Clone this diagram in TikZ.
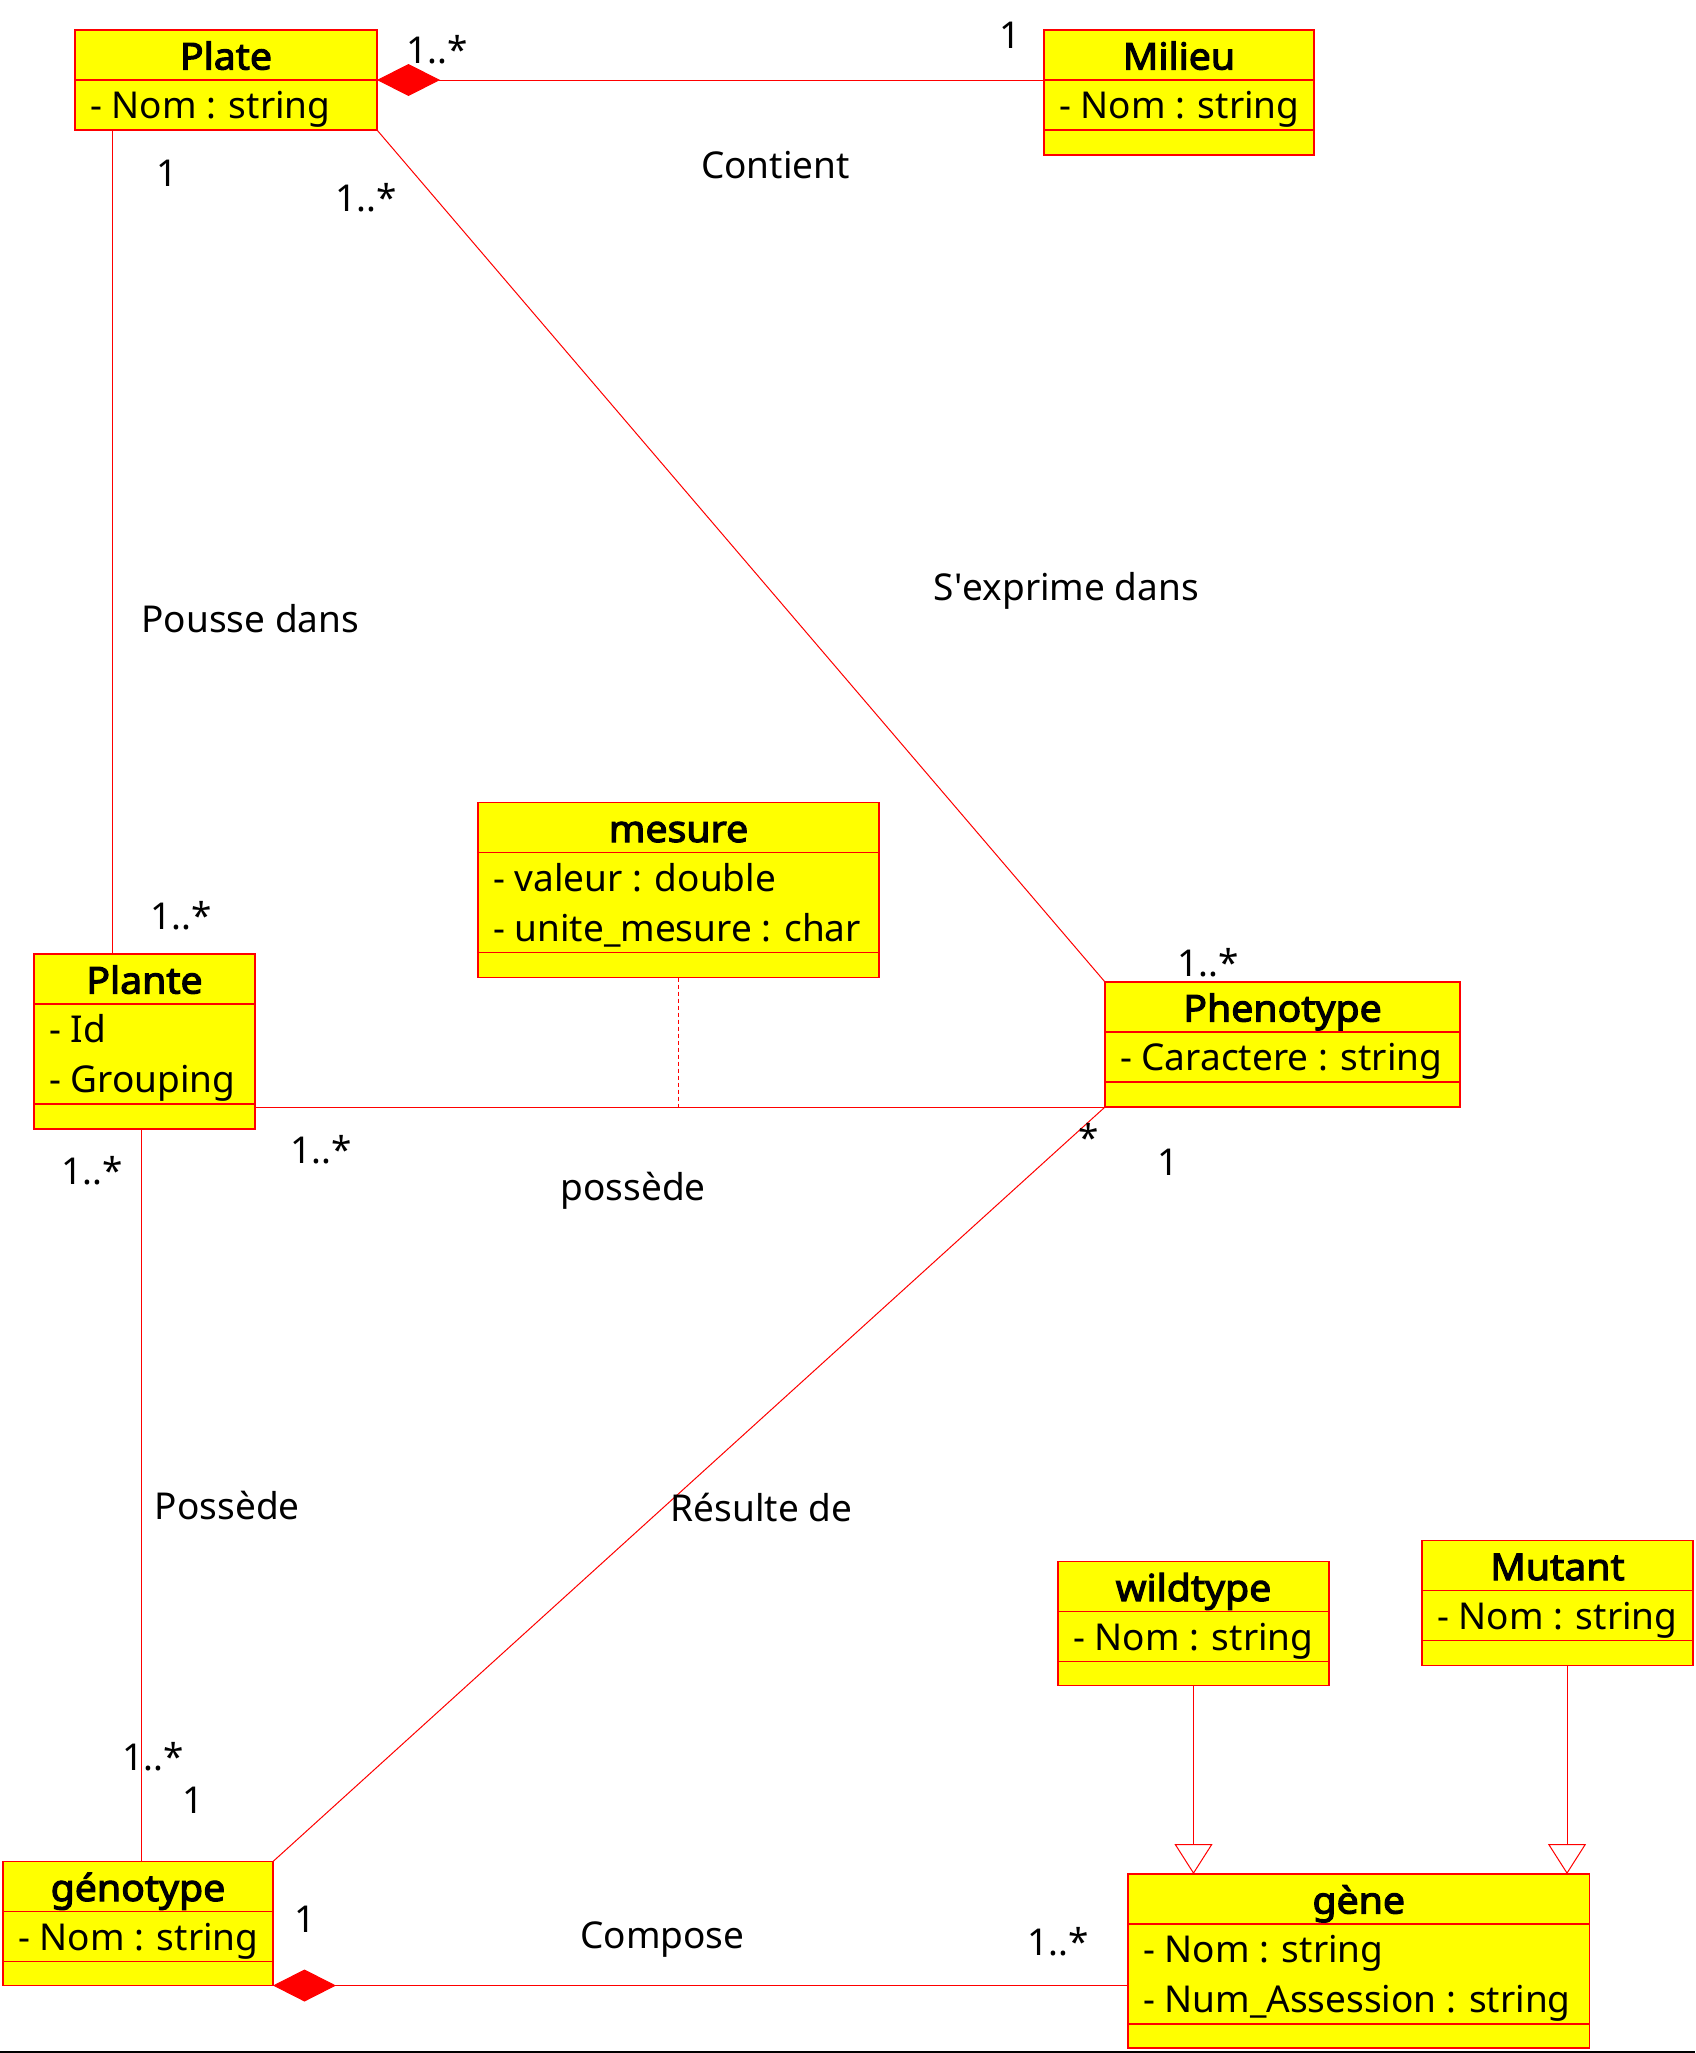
\documentclass[tikz,border=0pt]{standalone}
\usepackage{fontspec}
\setmainfont{Noto Sans}
\newfontfamily\umltitlefont{Noto Sans}[FakeBold=3,FakeStretch=1.06]
\usetikzlibrary{arrows.meta,calc}
\definecolor{umlred}{RGB}{255,0,0}
\definecolor{umlyel}{RGB}{255,255,0}
\tikzset{
  classbox/.style={draw=umlred, fill=umlyel, line width=1.3pt, inner sep=0pt, outer sep=0pt, anchor=north west},
  divider/.style={draw=umlred, line width=1.3pt},
  txt/.style={inner sep=0pt, outer sep=0pt, font=\fontsize{37}{44}\selectfont, text=black},
  ttl/.style={txt, font=\umltitlefont\fontsize{37}{44}\selectfont, anchor=base},
  attr/.style={txt, anchor=base west},
  lbl/.style={txt, anchor=base},
  assoc/.style={draw=umlred, line width=1pt},
  compo/.style={assoc, {Diamond[length=63pt,width=32pt]}-},
  gen/.style={assoc, -{Triangle[open,length=30pt,width=38pt]}},
  dep/.style={assoc, dash pattern=on 4pt off 3pt},
}
\newcommand\umlclass[7]{%
  \pgfmathsetmacro\umlbot{#3+50+50*#6+#7}%
  \pgfmathsetmacro\umlw{#4-#2}%
  \pgfmathsetmacro\umlh{\umlbot-#3}%
  \node[classbox, minimum width=\umlw pt, minimum height=\umlh pt] (#1) at (#2,#3) {};
  \node[ttl] (#1-t) at ({(#2+#4)/2},#3+39.5) {#5};
  \draw[divider] (#2,#3+50) -- (#4,#3+50);
  \ifdim#7pt>0pt \draw[divider] (#2,#3+50+50*#6) -- (#4,#3+50+50*#6);\fi
}
\begin{document}
\begin{tikzpicture}[x=1pt,y=-1pt]
\useasboundingbox (0,0) rectangle (1695,2053);

% classes
\umlclass{plate}{75}{30}{377}{Plate}{1}{0}
\node[attr] (plate-a1) at (90,118.5) {- Nom : string};

\umlclass{milieu}{1044}{30}{1314}{Milieu}{1}{25}
\node[attr] (milieu-a1) at (1059,118.5) {- Nom : string};

\umlclass{mesure}{478}{802.5}{879}{mesure}{2}{25}
\node[attr] (mesure-a1) at (493,891) {- valeur : double};
\node[attr] (mesure-a2) at (493,941) {- unite\_mesure : char};

\umlclass{plante}{34}{954}{255}{Plante}{2}{25}
\node[attr] (plante-a1) at (49,1042.5) {- Id};
\node[attr] (plante-a2) at (49,1092.5) {- Grouping};

\umlclass{pheno}{1105}{982}{1460}{Phenotype}{1}{25}
\node[attr] (pheno-a1) at (1120,1070.5) {- Caractere : string};

\umlclass{geno}{3}{1861.5}{273}{génotype}{1}{24}
\node[attr] (geno-a1) at (18,1950) {- Nom : string};

\umlclass{wild}{1058}{1561.5}{1329}{wildtype}{1}{24}
\node[attr] (wild-a1) at (1073,1650) {- Nom : string};

\umlclass{mutant}{1422}{1540.5}{1693}{Mutant}{1}{25}
\node[attr] (mutant-a1) at (1437,1629) {- Nom : string};

\umlclass{gene}{1128}{1874}{1589.5}{gène}{2}{24}
\node[attr] (gene-a1) at (1143,1962.5) {- Nom : string};
\node[attr] (gene-a2) at (1143,2012.5) {- Num\_Assession : string};

% connectors
\draw[compo] (plate.east) -- (plate.east -| milieu.west);
\coordinate (pp1) at ([xshift=37pt]plate.south west);
\draw[assoc] (pp1) -- (pp1 |- plante.north);
\draw[assoc] (plate.south east) -- (pheno.north west);
\draw[assoc] (pheno.south west -| plante.east) -- (pheno.south west);
\draw[dep] (mesure.south) -- (mesure.south |- pheno.south west);
\coordinate (pg1) at ([xshift=107pt]plante.south west);
\draw[assoc] (pg1) -- (pg1 |- geno.north);
\draw[assoc] (geno.north east) -- (pheno.south west);
\draw[compo] (geno.south east) -- (geno.south east -| gene.west);
\draw[gen] (wild.south) -- (wild.south |- gene.north);
\coordinate (mu1) at ([xshift=145pt]mutant.south west);
\draw[gen] (mu1) -- (mu1 |- gene.north);

% association names
\node[lbl] (n-contient) at (775.4,178.3) {Contient};
\node[lbl] (n-exprime) at (1066.5,600) {S\textquotesingle exprime dans};
\node[lbl] (n-pousse) at (250.3,632.7) {Pousse dans};
\node[lbl] (n-possede1) at (633.1,1200.8) {possède};
\node[lbl] (n-possede2) at (227.3,1519.7) {Possède};
\node[lbl] (n-resulte) at (761.7,1521) {Résulte de};
\node[lbl] (n-compose) at (662.4,1948) {Compose};

% multiplicities
\node[lbl] (m1) at (437.5,63) {1..*};
\node[lbl] (m2) at (1010,48.3) {1};
\node[lbl] (m3) at (166.7,186.7) {1};
\node[lbl] (m4) at (365.7,211.5) {1..*};
\node[lbl] (m5) at (181.4,929) {1..*};
\node[lbl] (m6) at (1208.4,976.7) {1..*};
\node[lbl] (m7) at (321.4,1163) {1..*};
\node[lbl] (m8) at (92.3,1184.7) {1..*};
\node[lbl] (m9) at (1088.5,1151.5) {*};
\node[lbl] (m10) at (1168,1175) {1};
\node[lbl] (m11) at (153,1770.7) {1..*};
\node[lbl] (m12) at (193.2,1813.3) {1};
\node[lbl] (m13) at (305.5,1932) {1};
\node[lbl] (m14) at (1057.9,1955) {1..*};

% bottom rule
\draw[black, line width=1.5pt] (0,2052) -- (1695,2052);
\end{tikzpicture}
\end{document}
